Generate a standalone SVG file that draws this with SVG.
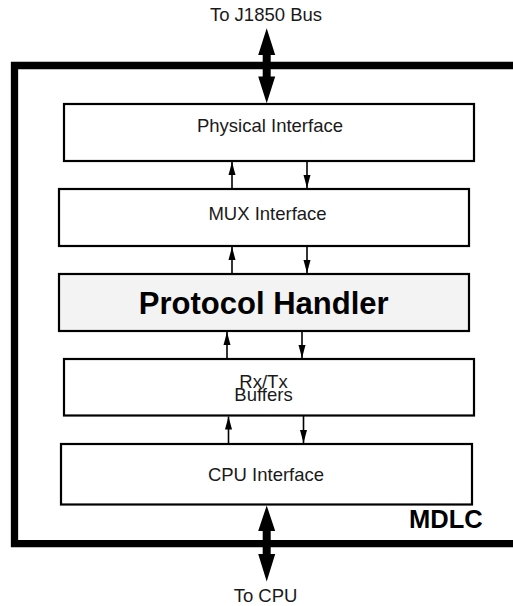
<svg xmlns="http://www.w3.org/2000/svg" width="513" height="606" viewBox="0 0 513 606">
<defs>
<marker id="ah" markerUnits="userSpaceOnUse" markerWidth="13" markerHeight="7" viewBox="0 0 13 7" refX="13" refY="3.5" orient="auto" overflow="visible">
<path d="M0,0 L13,3.5 L0,7 Z" fill="#000"/>
</marker>
</defs>
<style>
.box{stroke:#000;stroke-width:2.2;fill:#fff}
.t{font-family:"Liberation Sans",Arial,sans-serif;font-size:18.5px;fill:#1a1a1a;text-anchor:middle}
.c{stroke:#000;stroke-width:1.6;fill:none}
.big{fill:#000}
</style>
<rect width="513" height="606" fill="#fff"/>
<g id="frame">
<path d="M513,65.5 H14.5 V543.7 H513" fill="none" stroke="#000" stroke-width="7.3"/>
<text x="409" y="527.5" style="font-family:'Liberation Sans',Arial,sans-serif;font-size:25.5px;font-weight:bold" fill="#000">MDLC</text>
</g>
<g id="physical">
<rect class="box" x="64" y="104" width="410" height="57"/>
<text class="t" x="270" y="132">Physical Interface</text>
</g>
<g id="mux">
<rect class="box" x="59" y="189" width="410" height="57"/>
<text class="t" x="267.5" y="220">MUX Interface</text>
</g>
<g id="protocol">
<rect class="box" x="59" y="274" width="410" height="57" style="fill:#f3f3f3"/>
<text x="263.7" y="314" style="font-family:'Liberation Sans',Arial,sans-serif;font-size:31px;font-weight:bold;text-anchor:middle" fill="#000">Protocol Handler</text>
</g>
<g id="buffers">
<rect class="box" x="64" y="359" width="410" height="56.5"/>
<text class="t" x="263.5" y="387.5">Rx/Tx</text>
<text class="t" x="263.5" y="401">Buffers</text>
</g>
<g id="cpu">
<rect class="box" x="61" y="444" width="411" height="60.5"/>
<text class="t" x="266" y="481">CPU Interface</text>
</g>
<g id="labels">
<text class="t" x="266" y="20.5">To J1850 Bus</text>
<text class="t" x="265.5" y="601.5">To CPU</text>
</g>
<g id="connectors">
<path class="big" d="M266.7,28.3 L275.2,55 L270.7,55 L270.7,76.5 L275.2,76.5 L266.7,103.3 L258.2,76.5 L262.7,76.5 L262.7,55 L258.2,55 Z"/>
<path class="big" d="M266.7,505.5 L275.2,531 L270.7,531 L270.7,554 L275.2,554 L266.7,581.5 L258.2,554 L262.7,554 L262.7,531 L258.2,531 Z"/>
<line class="c" x1="232" y1="189" x2="232" y2="162" marker-end="url(#ah)"/>
<line class="c" x1="307" y1="161" x2="307" y2="188" marker-end="url(#ah)"/>
<line class="c" x1="232" y1="274" x2="232" y2="247" marker-end="url(#ah)"/>
<line class="c" x1="307" y1="246" x2="307" y2="273" marker-end="url(#ah)"/>
<line class="c" x1="227" y1="359" x2="227" y2="332" marker-end="url(#ah)"/>
<line class="c" x1="302" y1="331" x2="302" y2="358" marker-end="url(#ah)"/>
<line class="c" x1="228.5" y1="444" x2="228.5" y2="416.5" marker-end="url(#ah)"/>
<line class="c" x1="303.5" y1="415.5" x2="303.5" y2="443" marker-end="url(#ah)"/>
</g>
</svg>
